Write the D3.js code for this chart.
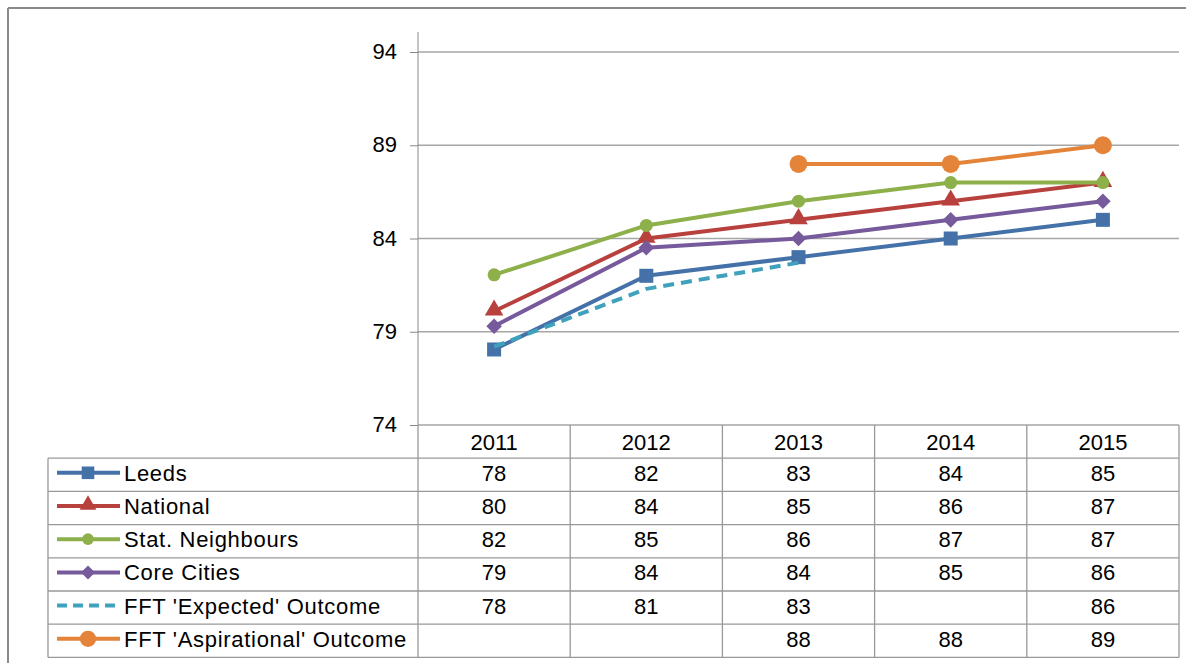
<!DOCTYPE html>
<html>
<head>
<meta charset="utf-8">
<script src="https://cdn.jsdelivr.net/npm/d3@7"></script>
<style>
  body { margin: 0; background: #fff; }
  svg text { font-family: "Liberation Sans", Arial, sans-serif; fill: #000; }
</style>
</head>
<body>
<div id="chart"></div>
<script>
let years = ['2011', '2012', '2013', '2014', '2015'];
let seriesNames = ['Leeds', 'National', 'Stat. Neighbours', 'Core Cities', "FFT 'Expected' Outcome", "FFT 'Aspirational' Outcome"];
let leeds = [78.05, 82, 83, 84, 85];
let national = [80.1, 84, 85, 86, 87];
let statNeighbours = [82.05, 84.7, 86, 87, 87];
let coreCities = [79.3, 83.5, 84, 85, 86];
let fftExpected = [78.2, 81.3, 82.7, null, 86];
let fftAspirational = [null, null, 88, 88, 89];
let yTicks = [74, 79, 84, 89, 94];

let colors = ['#4472a8', '#b8413e', '#8db04b', '#765a9b', '#3fa1bb', '#e4843a'];
let shapes = ['square', 'triangle', 'circle', 'diamond', 'none', 'bigcircle'];
let allSeries = [leeds, national, statNeighbours, coreCities, fftExpected, fftAspirational];

let width = 1186, height = 663;
let plot = { left: 418, right: 1179, top: 52, bottom: 425 };
let rowH = 33.2;
let tableLeft = 48;
let fontSize = '22px';

let svg = d3.select('#chart').append('svg')
  .attr('width', width)
  .attr('height', height);

// outer frame (top and left only visible)
svg.append('line').attr('x1', 8).attr('x2', width).attr('y1', 8).attr('y2', 8)
  .attr('stroke', '#8a8a8a').attr('stroke-width', 2);
svg.append('line').attr('x1', 8).attr('x2', 8).attr('y1', 8).attr('y2', height)
  .attr('stroke', '#8a8a8a').attr('stroke-width', 2);

let x = d3.scaleBand().domain(years).range([plot.left, plot.right]);
let y = d3.scaleLinear().domain([74, 94]).range([plot.bottom, plot.top]);

// gridlines
svg.append('g').selectAll('line').data(yTicks).enter().append('line')
  .attr('x1', plot.left).attr('x2', plot.right)
  .attr('y1', d => y(d)).attr('y2', d => y(d))
  .attr('stroke', '#a6a6a6').attr('stroke-width', 1.3);

// y axis
let yAxis = d3.axisLeft(y).tickValues(yTicks).tickSize(8).tickPadding(13);
let ya = svg.append('g').attr('transform', `translate(${plot.left},0)`).call(yAxis);
ya.select('.domain').attr('d', `M0,32V${plot.bottom}`).attr('stroke', '#888');
ya.selectAll('.tick line').attr('stroke', '#888');
ya.selectAll('.tick text').style('font-size', fontSize).attr('dy', '0.3em');

// data table
let tableTop = plot.bottom;
let tableBottom = tableTop + rowH * 7;
let tg = svg.append('g');
let colEdges = [plot.left].concat(years.map(yv => x(yv) + x.bandwidth()));
tg.selectAll('.vcol').data(colEdges).enter().append('line')
  .attr('x1', d => d).attr('x2', d => d)
  .attr('y1', tableTop).attr('y2', tableBottom)
  .attr('stroke', '#999').attr('stroke-width', 1.3);
tg.append('line').attr('x1', tableLeft).attr('x2', tableLeft)
  .attr('y1', tableTop + rowH).attr('y2', tableBottom)
  .attr('stroke', '#999').attr('stroke-width', 1.3);
let rowEdges = d3.range(1, 8).map(i => tableTop + rowH * i);
tg.selectAll('.hrow').data(rowEdges).enter().append('line')
  .attr('x1', tableLeft).attr('x2', plot.right)
  .attr('y1', d => d).attr('y2', d => d)
  .attr('stroke', '#999').attr('stroke-width', 1.3);

// header
tg.selectAll('.yr').data(years).enter().append('text')
  .attr('x', d => x(d) + x.bandwidth() / 2)
  .attr('y', tableTop + rowH / 2)
  .attr('dy', '0.36em')
  .attr('text-anchor', 'middle')
  .style('font-size', fontSize)
  .text(d => d);

// rows
seriesNames.forEach((name, i) => {
  let cy = tableTop + rowH * (i + 1) + rowH / 2;
  let vals = allSeries[i];
  tg.selectAll('.v' + i).data(years).enter().append('text')
    .attr('x', d => x(d) + x.bandwidth() / 2)
    .attr('y', cy - 2)
    .attr('dy', '0.36em')
    .attr('text-anchor', 'middle')
    .style('font-size', fontSize)
    .text((d, j) => vals[j] == null ? '' : Math.round(vals[j]));

  // legend key
  let key = tg.append('line')
    .attr('x1', 57).attr('x2', 120).attr('y1', cy - 2).attr('y2', cy - 2)
    .attr('stroke', colors[i]).attr('stroke-width', 4);
  if (shapes[i] === 'none') key.attr('stroke-dasharray', '10,6');
  drawMarker(tg, shapes[i], 88, cy - 2, colors[i], 0.9);

  tg.append('text')
    .attr('x', 124).attr('y', cy - 2).attr('dy', '0.36em')
    .style('font-size', fontSize)
    .style('letter-spacing', '0.7px')
    .text(name);
});

function drawMarker(g, shape, cx, cy, color, k) {
  if (shape === 'square') {
    g.append('rect').attr('x', cx - 7 * k).attr('y', cy - 7 * k)
      .attr('width', 14 * k).attr('height', 14 * k).attr('fill', color);
  } else if (shape === 'triangle') {
    g.append('path').attr('d', d3.symbol().type(d3.symbolTriangle).size(150 * k * k)())
      .attr('transform', `translate(${cx},${cy - 1})`).attr('fill', color);
  } else if (shape === 'circle') {
    g.append('circle').attr('cx', cx).attr('cy', cy).attr('r', 6.5 * k).attr('fill', color);
  } else if (shape === 'diamond') {
    g.append('rect').attr('x', -5.5 * k).attr('y', -5.5 * k)
      .attr('width', 11 * k).attr('height', 11 * k)
      .attr('transform', `translate(${cx},${cy}) rotate(45)`).attr('fill', color);
  } else if (shape === 'bigcircle') {
    g.append('circle').attr('cx', cx).attr('cy', cy).attr('r', 9 * k).attr('fill', color);
  }
}

// lines
let line = d3.line()
  .defined(d => d.v != null)
  .x(d => x(d.year) + x.bandwidth() / 2)
  .y(d => y(d.v));

let lg = svg.append('g');
allSeries.forEach((vals, i) => {
  let pts = years.map((yr, j) => ({ year: yr, v: vals[j] }));
  let path = lg.append('path')
    .datum(pts)
    .attr('d', line)
    .attr('fill', 'none')
    .attr('stroke', colors[i])
    .attr('stroke-width', 4)
    .attr('stroke-linejoin', 'round');
  if (shapes[i] === 'none') path.attr('stroke-dasharray', '11,7');
  pts.forEach(p => {
    if (p.v != null) drawMarker(lg, shapes[i], x(p.year) + x.bandwidth() / 2, y(p.v), colors[i], 1);
  });
});
</script>
</body>
</html>
